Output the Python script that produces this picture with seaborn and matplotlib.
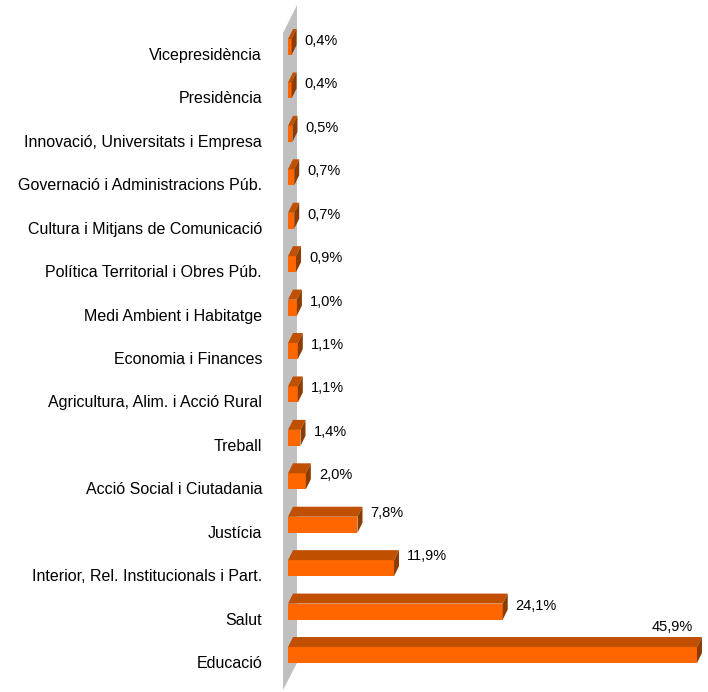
import matplotlib
matplotlib.use("Agg")
import matplotlib.pyplot as plt
import seaborn as sns
import pandas as pd
from matplotlib.patches import Polygon
from matplotlib.transforms import ScaledTranslation

categories = [
    "Vicepresidència",
    "Presidència",
    "Innovació, Universitats i Empresa",
    "Governació i Administracions Púb.",
    "Cultura i Mitjans de Comunicació",
    "Política Territorial i Obres Púb.",
    "Medi Ambient i Habitatge",
    "Economia i Finances",
    "Agricultura, Alim. i Acció Rural",
    "Treball",
    "Acció Social i Ciutadania",
    "Justícia",
    "Interior, Rel. Institucionals i Part.",
    "Salut",
    "Educació",
]
values = [0.4, 0.4, 0.5, 0.7, 0.7, 0.9, 1.0, 1.1, 1.1, 1.4, 2.0, 7.8, 11.9, 24.1, 45.9]

df = pd.DataFrame({"dept": categories, "pct": values})

sns.set_theme(style="white")
plt.rcParams["font.family"] = ["Liberation Sans", "DejaVu Sans"]

W, H, DPI = 708, 692, 100
fig = plt.figure(figsize=(W / DPI, H / DPI), dpi=DPI)
ax_left_px = 280
ax = fig.add_axes([ax_left_px / W, 0, (W - ax_left_px) / W, 1])

px_per_x = 8.91     # pixels per percent
px_per_y = 43.43    # pixels per category
top_px = 47         # first category centre, pixels from top

FRONT = "#ff6600"
TOP = "#c05000"
SIDE = "#8c3c00"
WALL = "#c0c0c0"

sns.barplot(data=df, x="pct", y="dept", orient="h", color=FRONT, saturation=1,
            width=16 / px_per_y, ax=ax, zorder=3, linewidth=0)

x0 = -(288 - ax_left_px) / px_per_x
ax.set_xlim(x0, x0 + (W - ax_left_px) / px_per_x)
ax.set_ylim((H - top_px) / px_per_y, -top_px / px_per_y)

# 3D depth in data units
ddx = 5 / px_per_x
ddy = 10 / px_per_y

bars = list(ax.patches)

# back wall
wall = Polygon([(-5 / px_per_x, (33 - top_px) / px_per_y), (9 / px_per_x, (5 - top_px) / px_per_y),
                (9 / px_per_x, (663 - top_px) / px_per_y), (-5 / px_per_x, (690 - top_px) / px_per_y)],
               closed=True, facecolor=WALL, edgecolor="none", zorder=1)
ax.add_patch(wall)

for p in bars:
    xa = p.get_x()
    xb = xa + p.get_width()
    yt = min(p.get_y(), p.get_y() + p.get_height())
    yb = max(p.get_y(), p.get_y() + p.get_height())
    top = Polygon([(xa, yt), (xb, yt), (xb + ddx, yt - ddy), (xa + ddx, yt - ddy)],
                  closed=True, facecolor=TOP, edgecolor="none", zorder=3)
    side = Polygon([(xb, yt), (xb + ddx, yt - ddy), (xb + ddx, yb - ddy), (xb, yb)],
                   closed=True, facecolor=SIDE, edgecolor="none", zorder=3)
    ax.add_patch(top)
    ax.add_patch(side)

# value labels
for i, v in enumerate(values):
    txt = f"{v:.1f}".replace(".", ",") + "%"
    if i == len(values) - 1:
        ax.annotate(txt, xy=(v, i), xytext=(-4, 28), textcoords="offset pixels",
                    ha="right", va="center", fontsize=10.5, color="black")
    else:
        dy = 12 if 5 < v < 20 else 6
        ax.annotate(txt, xy=(v, i), xytext=(13, dy), textcoords="offset pixels",
                    ha="left", va="center", fontsize=10.5, color="black")

ax.set_xlabel("")
ax.set_ylabel("")
ax.set_xticks([])
ax.tick_params(axis="y", length=0, pad=18 * 0.72, labelsize=11.5, labelcolor="black")
for lab in ax.get_yticklabels():
    lab.set_transform(lab.get_transform() + ScaledTranslation(0, -7 / DPI, fig.dpi_scale_trans))
for s in ax.spines.values():
    s.set_visible(False)
ax.set_facecolor("white")
fig.patch.set_facecolor("white")

fig.savefig("out.png", dpi=DPI)
